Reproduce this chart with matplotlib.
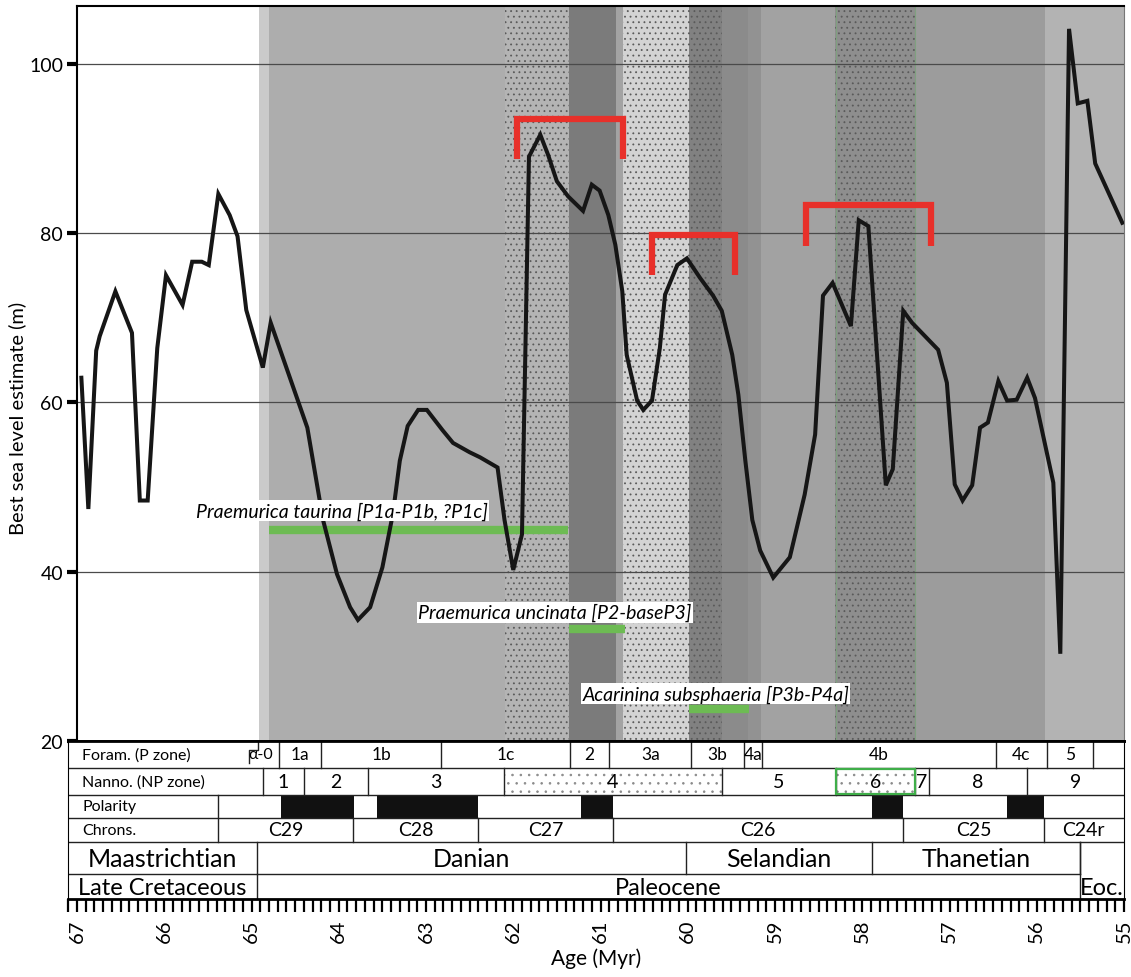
import matplotlib.pyplot as plt
import numpy as np
from matplotlib.ticker import MultipleLocator
from matplotlib.patches import Rectangle

plt.rcParams['font.family'] = ['Lato', 'DejaVu Sans']
plt.rcParams['hatch.linewidth'] = 0.6

# Sea level curve: age (Myr) and best sea level estimate (m)
age = [66.95, 66.87, 66.78, 66.74, 66.56, 66.37, 66.28, 66.19, 66.08, 65.98,
       65.79, 65.68, 65.57, 65.49, 65.38, 65.25, 65.16, 65.06, 64.87, 64.78,
       64.36, 64.18, 64.02, 63.87, 63.78, 63.64, 63.50, 63.38, 63.30, 63.21,
       63.09, 62.99, 62.81, 62.69, 62.50, 62.38, 62.18, 62.10, 62.00, 61.90,
       61.82, 61.69, 61.60, 61.50, 61.37, 61.20, 61.10, 61.01, 60.91, 60.83,
       60.75, 60.70, 60.58, 60.51, 60.41, 60.32, 60.26, 60.12, 60.01, 59.86,
       59.71, 59.61, 59.49, 59.42, 59.34, 59.26, 59.17, 59.02, 58.83, 58.66,
       58.54, 58.45, 58.34, 58.13, 58.04, 57.93, 57.73, 57.65, 57.53, 57.43,
       57.28, 57.13, 57.03, 56.94, 56.85, 56.74, 56.65, 56.56, 56.44, 56.34,
       56.23, 56.11, 56.02, 55.81, 55.73, 55.63, 55.53, 55.42, 55.33, 55.02]
sea_level = [62.9, 47.4, 66.1, 67.8, 73.1, 68.2, 48.4, 48.4, 66.4, 75.0,
             71.5, 76.6, 76.6, 76.2, 84.6, 82.1, 79.6, 70.9, 64.1, 69.4,
             57.0, 46.1, 39.7, 35.8, 34.3, 35.8, 40.5, 46.8, 53.1, 57.2,
             59.1, 59.1, 56.7, 55.2, 54.1, 53.5, 52.3, 46.1, 40.2, 44.4,
             89.0, 91.6, 89.2, 86.1, 84.3, 82.6, 85.7, 85.0, 82.1, 78.6,
             73.1, 65.6, 60.2, 59.1, 60.2, 66.4, 72.7, 76.2, 77.0, 74.7,
             72.6, 70.8, 65.6, 60.9, 53.1, 46.1, 42.5, 39.3, 41.7, 49.1,
             56.2, 72.6, 74.1, 69.0, 81.5, 80.8, 50.2, 52.1, 70.8, 69.4,
             67.8, 66.2, 62.3, 50.3, 48.4, 50.2, 57.0, 57.6, 62.5, 60.2,
             60.3, 62.9, 60.5, 50.5, 30.3, 104.1, 95.3, 95.6, 88.2, 81.2]

# Background shading bands (ages)
band_edges = [64.91, 64.80, 62.10, 61.36, 60.82, 60.74, 59.99, 59.61, 59.31,
              59.16, 58.31, 57.38, 55.91, 55.0]
band_colors = ['#cacaca', '#adadad', '#b4b4b4', '#7b7b7b', '#a3a3a3', '#d3d3d3',
               '#818181', '#8b8b8b', '#929292', '#a2a2a2', '#8e8e8e', '#9c9c9c',
               '#b3b3b3']
band_stipple = [False, False, True, False, False, True, True, False, False,
                False, True, False, False]

# Red brackets
bracket_left = [61.96, 60.41, 58.64]
bracket_right = [60.74, 59.46, 57.21]
bracket_top = [93.4, 79.8, 83.3]
bracket_bottom = [88.7, 75.0, 78.5]

# Species ranges
species = ['Praemurica taurina [P1a-P1b, ?P1c]',
           'Praemurica uncinata [P2-baseP3]',
           'Acarinina subsphaeria [P3b-P4a]']
species_start = [64.80, 61.36, 59.99]
species_end = [61.37, 60.72, 59.30]
species_level = [44.9, 33.2, 23.8]
species_text_x = [65.64, 63.09, 61.21]
species_text_y = [47.2, 35.2, 25.6]

# Stratigraphic table
foram_edges = [65.03, 64.69, 64.20, 62.83, 61.35, 60.90, 59.96, 59.36, 59.15,
               56.47, 55.88, 55.36]
foram_labels = ['α-0', '1a', '1b', '1c', '2', '3a', '3b', '4a', '4b', '4c', '5']
nanno_edges = [64.87, 64.40, 63.67, 62.11, 59.61, 58.30, 57.40, 57.24, 56.11, 55.0]
nanno_labels = ['1', '2', '3', '4', '5', '6', '7', '8', '9']
polarity_start = [64.66, 63.56, 61.22, 57.89, 56.34]
polarity_end = [63.83, 62.40, 60.86, 57.53, 55.92]
chron_edges = [65.38, 63.84, 62.40, 60.86, 57.53, 55.92, 55.0]
chron_labels = ['C29', 'C28', 'C27', 'C26', 'C25', 'C24r']
stage_edges = [67.1, 64.94, 60.02, 57.89, 55.50]
stage_labels = ['Maastrichtian', 'Danian', 'Selandian', 'Thanetian']
epoch_edges = [67.1, 64.94, 55.50, 55.0]
epoch_labels = ['Late Cretaceous', 'Paleocene', 'Eoc.']

W, H = 1131, 978
fig = plt.figure(figsize=(W / 100, H / 100), dpi=100)

# ---- main plot ----
ax = fig.add_axes([77 / W, (H - 742) / H, 1047 / W, 735 / H])
ax.set_xlim(67, 55)
ax.set_ylim(20, 106.8)

for i in range(len(band_colors)):
    ax.axvspan(band_edges[i], band_edges[i + 1], color=band_colors[i], lw=0, zorder=0)
    if band_stipple[i]:
        ax.axvspan(band_edges[i], band_edges[i + 1], facecolor='none',
                   edgecolor='#5a5a5a', hatch='...', lw=0, zorder=0.2)
# green outline for NP6 band
ax.axvline(nanno_edges[5], color='#7fa07f', lw=0.8, zorder=0.3)
ax.axvline(nanno_edges[6], color='#7fa07f', lw=0.8, zorder=0.3)

ax.set_yticks([20, 40, 60, 80, 100])
ax.set_xticks([])
ax.grid(axis='y', color='#4a4a4a', lw=0.9)
ax.set_axisbelow('line')
ax.tick_params(axis='y', direction='out', length=7, width=3, labelsize=14, pad=3)
ax.set_ylabel('Best sea level estimate (m)', fontsize=14.5)
ax.yaxis.set_label_coords(-0.049, 0.44)

for s in ['top', 'left']:
    ax.spines[s].set_linewidth(1.5)
ax.spines['right'].set_color('#777777')
ax.spines['bottom'].set_linewidth(2)

for name, x0, x1, lvl, tx, ty in zip(species, species_start, species_end,
                                     species_level, species_text_x, species_text_y):
    ax.text(tx, ty, name, style='italic', fontsize=14, ha='left', va='center',
            bbox=dict(facecolor='white', edgecolor='none', pad=1), zorder=6)
    ax.plot([x0, x1], [lvl, lvl], color='#6dbb53', lw=6, solid_capstyle='butt', zorder=4)

for l, r, t, b in zip(bracket_left, bracket_right, bracket_top, bracket_bottom):
    ax.plot([l, l, r, r], [b, t, t, b], color='#e8302a', lw=4.5,
            solid_joinstyle='miter', solid_capstyle='butt', zorder=4)

ax.plot(age, sea_level, color='#161616', lw=2.9, solid_joinstyle='miter', zorder=5)

# ---- stratigraphic table ----
tab = fig.add_axes([68 / W, (H - 900) / H, 1056 / W, 158 / H])
tab.set_xlim(67 + 9 / 87.25, 55)
tab.set_ylim(158, 0)
tab.set_yticks([])
rows = [0, 27, 54, 77, 101, 133, 158]
lc = '#222222'


def vline(x, r0, r1):
    tab.plot([x, x], [r0, r1], color=lc, lw=1)


def mid(a, b):
    return (a + b) / 2


for r in rows[1:5]:
    tab.axhline(r, color=lc, lw=1)
tab.plot([67.1, stage_edges[-1]], [rows[5], rows[5]], color=lc, lw=1)

# row labels
for r, lab in zip(range(4), ['Foram. (P zone)', 'Nanno. (NP zone)', 'Polarity', 'Chrons.']):
    tab.text(66.94, mid(rows[r], rows[r + 1]), lab, fontsize=11.5, ha='left', va='center')

# foram zones
tab.plot([64.93, 64.93, foram_edges[0], foram_edges[0]], [1, 9, 9, 22], color=lc, lw=1)
for e in foram_edges[1:]:
    vline(e, rows[0], rows[1])
for i, lab in enumerate(foram_labels):
    tab.text(mid(foram_edges[i], foram_edges[i + 1]) + (0.03 if i == 0 else 0),
             mid(rows[0], rows[1]), lab,
             fontsize=11.5 if i == 0 else 12.5, ha='center', va='center')

# nanno zones
tab.add_patch(Rectangle((nanno_edges[3], rows[1]), nanno_edges[4] - nanno_edges[3],
                        rows[2] - rows[1], facecolor='white', edgecolor='#8a8a8a',
                        hatch='..', lw=0))
tab.add_patch(Rectangle((nanno_edges[5], rows[1] + 0.8), nanno_edges[6] - nanno_edges[5],
                        rows[2] - rows[1] - 1.6, facecolor='white', edgecolor='#8a8a8a',
                        hatch='..', lw=0))
tab.add_patch(Rectangle((nanno_edges[5], rows[1] + 0.8), nanno_edges[6] - nanno_edges[5],
                        rows[2] - rows[1] - 1.6, facecolor='none', edgecolor='#3fae49',
                        lw=1.6, zorder=3))
for e in nanno_edges[:-1]:
    vline(e, rows[1], rows[2])
for i, lab in enumerate(nanno_labels):
    tab.text(mid(nanno_edges[i], nanno_edges[i + 1]), mid(rows[1], rows[2]), lab,
             fontsize=14, ha='center', va='center', zorder=4)

# polarity
vline(chron_edges[0], rows[2], rows[4])
for a, b in zip(polarity_start, polarity_end):
    tab.fill_between([a, b], rows[2], rows[3], color='#111111', lw=0)

# chrons
for e in chron_edges[1:-1]:
    vline(e, rows[3], rows[4])
for i, lab in enumerate(chron_labels):
    tab.text(mid(chron_edges[i], chron_edges[i + 1]), mid(rows[3], rows[4]), lab,
             fontsize=14, ha='center', va='center')

# stages
for e in stage_edges[1:]:
    vline(e, rows[4], rows[5])
for i, lab in enumerate(stage_labels):
    tab.text(mid(stage_edges[i], stage_edges[i + 1]), mid(rows[4], rows[5]) + 1, lab,
             fontsize=18, ha='center', va='center')

# epochs
vline(epoch_edges[1], rows[5], rows[6])
vline(epoch_edges[2], rows[4], rows[6])
for i, lab in enumerate(epoch_labels):
    y = mid(rows[5], rows[6]) + 1
    tab.text(mid(epoch_edges[i], epoch_edges[i + 1]), y, lab,
             fontsize=17, ha='center', va='center')

# ruler axis
tab.spines['top'].set_linewidth(2)
tab.spines['bottom'].set_linewidth(2)
tab.xaxis.set_major_locator(MultipleLocator(1))
tab.xaxis.set_minor_locator(MultipleLocator(0.1))
tab.tick_params(axis='x', which='both', direction='out', length=9, width=1.6)
tab.tick_params(axis='x', which='major', labelsize=14.5, labelrotation=90, pad=5)
tab.set_xlabel('Age (Myr)', fontsize=15, labelpad=4)

fig.savefig('out.png', dpi=100)
